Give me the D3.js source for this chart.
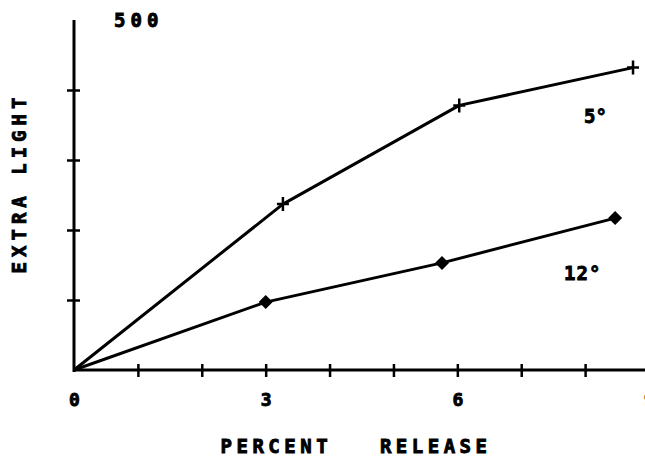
<!DOCTYPE html>
<html><head><meta charset="utf-8">
<script src="https://cdn.jsdelivr.net/npm/d3@7"></script>
<style>
html,body{margin:0;padding:0;background:#fff;}
svg text{font-family:"DejaVu Sans Mono",monospace;font-weight:bold;fill:#000;stroke:#000;stroke-width:0.9px;}
</style></head>
<body>
<script>
// Data
const xTickValues = [1,2,3,4,5,6,7,8,9];
const xTickLabels = [0,3,6,9];
const yTickValues = [100,200,300,400];
const yTopLabel = "500";
const series5X = [0, 3.27, 6.03, 8.75];
const series5Y = [0, 237, 378, 432];
const series12X = [0, 3.0, 5.76, 8.47];
const series12Y = [0, 97, 153, 217];
const seriesLabels = ["5°", "12°"];
const xTitle = "PERCENT   RELEASE";
const yTitle = "EXTRA LIGHT";

const W = 645, H = 457;
const svg = d3.select("body").append("svg").attr("width", W).attr("height", H);
const x = d3.scaleLinear().domain([0, 9]).range([74, 649]);
const y = d3.scaleLinear().domain([0, 500]).range([370, 20]);

// X axis
const gx = svg.append("g").attr("transform", `translate(0,${y(0)})`)
  .call(d3.axisBottom(x).tickValues(xTickValues).tickSize(6).tickFormat(""));
gx.select(".domain").attr("d", `M${x(0)},0H${W + 5}`).attr("stroke", "#000").attr("stroke-width", 3);
gx.selectAll(".tick line").attr("y1", -6).attr("y2", 7).attr("stroke", "#000").attr("stroke-width", 2.5);

// X labels
svg.append("g").attr("transform", `translate(0,${y(0)})`)
  .call(d3.axisBottom(x).tickValues(xTickLabels).tickSize(0).tickPadding(0).tickFormat(d3.format("d")))
  .call(g => g.select(".domain").remove())
  .selectAll("text").attr("y", 36).attr("dy", null).attr("font-size", 18)
  .style("font-family", "'DejaVu Sans Mono',monospace").style("font-weight", "bold");

// Y axis
const gy = svg.append("g").attr("transform", `translate(${x(0)},0)`)
  .call(d3.axisLeft(y).tickValues(yTickValues).tickSize(6).tickFormat(""));
gy.select(".domain").attr("d", `M0,${y(0) + 2}V${y(500)}`).attr("stroke", "#000").attr("stroke-width", 3);
gy.selectAll(".tick line").attr("x1", -7).attr("x2", 6).attr("stroke", "#000").attr("stroke-width", 2.5);

svg.append("text").attr("x", 114).attr("y", 27).attr("font-size", 19)
  .attr("letter-spacing", 5).text(yTopLabel);

// Titles
svg.append("text").attr("x", 356).attr("y", 453).attr("text-anchor", "middle")
  .attr("font-size", 19).attr("letter-spacing", 4.5)
  .attr("xml:space", "preserve").text(xTitle);
svg.append("text").attr("transform", `translate(26,183) rotate(-90)`).attr("text-anchor", "middle")
  .attr("font-size", 19).attr("letter-spacing", 5).text(yTitle);

// Lines
const line = d3.line().x(d => x(d[0])).y(d => y(d[1]));
const d5 = series5X.map((v, i) => [v, series5Y[i]]);
const d12 = series12X.map((v, i) => [v, series12Y[i]]);
[d5, d12].forEach(d => {
  svg.append("path").datum(d).attr("d", line).attr("fill", "none")
    .attr("stroke", "#000").attr("stroke-width", 3).attr("stroke-linejoin", "round");
});

// Markers
svg.append("g").selectAll("path").data(d5.slice(1)).join("path")
  .attr("transform", d => `translate(${x(d[0])},${y(d[1])})`)
  .attr("d", "M-6,0H6M0,-7V7").attr("stroke", "#000").attr("stroke-width", 2.5);
svg.append("g").selectAll("path").data(d12.slice(1)).join("path")
  .attr("transform", d => `translate(${x(d[0])},${y(d[1])})`)
  .attr("d", "M0,-7L7,0L0,7L-7,0Z").attr("fill", "#000");

// Series labels
svg.append("text").attr("x", 584).attr("y", 123).attr("font-size", 19).text(seriesLabels[0]);
svg.append("text").attr("x", 564).attr("y", 280).attr("font-size", 19).attr("letter-spacing", 1).text(seriesLabels[1]);
</script>
</body></html>
